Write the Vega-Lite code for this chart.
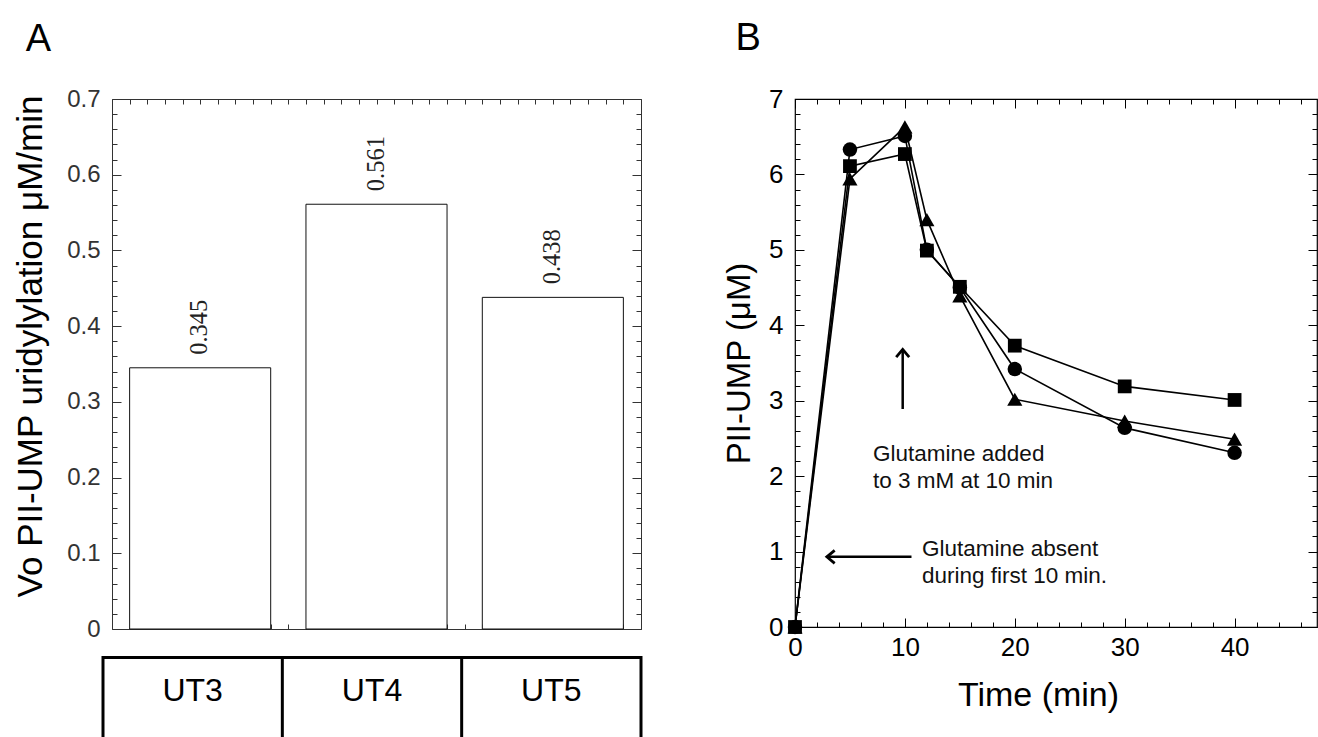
{
  "$schema": "https://vega.github.io/schema/vega-lite/v6.json",
  "background": "white",
  "padding": {"left": 13, "top": 19, "right": 0, "bottom": 0},
  "config": {
    "font": "Liberation Sans",
    "view": {"stroke": "black"},
    "axis": {"labelFont": "Liberation Sans", "titleFont": "Liberation Sans", "titleFontWeight": "normal", "labelFlush": false, "labelOverlap": false, "grid": false, "domain": false, "tickCount": 100},
    "title": {"font": "Liberation Sans", "fontWeight": "normal"}
  },
  "columns": 2,
  "bounds": "flush",
  "spacing": {"row": 27, "column": 154},
  "concat": [
    {
      "width": 529,
      "height": 530,
      "title": {"text": "A", "anchor": "start", "frame": "bounds", "fontSize": 38, "baseline": "alphabetic", "offset": -2, "dx": 12, "color": "black"},
      "view": {"stroke": "#333", "strokeWidth": 1},
      "data": {"values": [
        {"strain": "UT3", "rate": 0.345},
        {"strain": "UT4", "rate": 0.561},
        {"strain": "UT5", "rate": 0.438}
      ]},
      "layer": [
        {
          "layer": [
            {
              "mark": {"type": "bar", "fill": "white", "stroke": "#111", "strokeWidth": 1},
              "encoding": {
                "x": {"field": "strain", "type": "nominal", "scale": {"paddingInner": 0.2, "paddingOuter": 0.1}, "axis": null},
                "y": {"field": "rate", "type": "quantitative", "scale": {"domain": [0, 0.7], "nice": false},
                  "axis": {
                    "orient": "left",
                    "values": [0,0.02,0.04,0.06,0.08,0.1,0.12,0.14,0.16,0.18,0.2,0.22,0.24,0.26,0.28,0.3,0.32,0.34,0.36,0.38,0.4,0.42,0.44,0.46,0.48,0.5,0.52,0.54,0.56,0.58,0.6,0.62,0.64,0.66,0.68,0.7],
                    "tickCount": 100,
                    "labelExpr": "abs(datum.value*10 - round(datum.value*10)) < 0.001 ? (datum.value < 0.001 ? '0' : format(datum.value, '.1f')) : ''",
                    "labelOverlap": false,
                    "labelBound": false,
                    "tickSize": {"condition": {"test": "abs(datum.value*10 - round(datum.value*10)) < 0.001", "value": -9}, "value": -5},
                    "tickColor": "#333",
                    "tickWidth": 1,
                    "labelPadding": 21,
                    "labelFontSize": 24,
                    "labelColor": "#333",
                    "title": "Vo PII-UMP uridylylation μM/min",
                    "titleFontSize": 35,
                    "titleColor": "black",
                    "titlePadding": 18,
                    "titleY": 247
                  }
                }
              }
            },
            {
              "mark": {"type": "text", "angle": 270, "align": "left", "baseline": "middle", "dx": 13, "font": "Liberation Serif", "fontSize": 24.5, "color": "#222"},
              "encoding": {
                "x": {"field": "strain", "type": "nominal"},
                "y": {"field": "rate", "type": "quantitative"},
                "text": {"field": "rate", "type": "quantitative", "format": ".3f"}
              }
            }
          ]
        },
        {
          "mark": {"type": "point", "opacity": 0},
          "encoding": {
            "x": {"field": "rate", "type": "quantitative", "scale": {"domain": [0, 30], "nice": false, "zero": false},
              "axis": {"orient": "bottom", "values": [0,1,2,3,4,5,6,7,8,9,10,11,12,13,14,15,16,17,18,19,20,21,22,23,24,25,26,27,28,29,30], "tickCount": 100, "labels": false, "tickSize": -5, "tickColor": "#333", "title": null}},
            "y": {"field": "rate", "type": "quantitative", "scale": {"domain": [0, 0.7], "nice": false},
              "axis": {"orient": "right", "values": [0,0.02,0.04,0.06,0.08,0.1,0.12,0.14,0.16,0.18,0.2,0.22,0.24,0.26,0.28,0.3,0.32,0.34,0.36,0.38,0.4,0.42,0.44,0.46,0.48,0.5,0.52,0.54,0.56,0.58,0.6,0.62,0.64,0.66,0.68,0.7], "tickCount": 100, "labels": false,
                "tickSize": {"condition": {"test": "abs(datum.value*10 - round(datum.value*10)) < 0.001", "value": -9}, "value": -5}, "tickColor": "#333", "title": null}}
          }
        },
        {
          "mark": {"type": "point", "opacity": 0},
          "encoding": {
            "x": {"field": "rate", "type": "quantitative", "scale": {"domain": [0, 30], "nice": false, "zero": false},
              "axis": {"orient": "top", "values": [0,1,2,3,4,5,6,7,8,9,10,11,12,13,14,15,16,17,18,19,20,21,22,23,24,25,26,27,28,29,30], "tickCount": 100, "labels": false, "tickSize": -5, "tickColor": "#333", "title": null}}
          }
        }
      ],
      "resolve": {"scale": {"x": "independent", "y": "independent"}}
    },
    {
      "width": 522,
      "height": 528,
      "title": {"text": "B", "anchor": "start", "frame": "bounds", "fontSize": 38, "baseline": "alphabetic", "offset": -2, "dx": 12, "color": "black"},
      "view": {"stroke": "black", "strokeWidth": 1.2},
      "data": {"values": [
        {"series": "triangle", "t": 0, "v": 0},
        {"series": "triangle", "t": 5, "v": 5.94},
        {"series": "triangle", "t": 10, "v": 6.63},
        {"series": "triangle", "t": 12, "v": 5.4},
        {"series": "triangle", "t": 15, "v": 4.39},
        {"series": "triangle", "t": 20, "v": 3.02},
        {"series": "triangle", "t": 30, "v": 2.73},
        {"series": "triangle", "t": 40, "v": 2.49},
        {"series": "circle", "t": 0, "v": 0},
        {"series": "circle", "t": 5, "v": 6.33},
        {"series": "circle", "t": 10, "v": 6.51},
        {"series": "circle", "t": 12, "v": 5.0},
        {"series": "circle", "t": 15, "v": 4.5},
        {"series": "circle", "t": 20, "v": 3.42},
        {"series": "circle", "t": 30, "v": 2.64},
        {"series": "circle", "t": 40, "v": 2.31},
        {"series": "square", "t": 0, "v": 0},
        {"series": "square", "t": 5, "v": 6.11},
        {"series": "square", "t": 10, "v": 6.27},
        {"series": "square", "t": 12, "v": 4.99},
        {"series": "square", "t": 15, "v": 4.51},
        {"series": "square", "t": 20, "v": 3.73},
        {"series": "square", "t": 30, "v": 3.19},
        {"series": "square", "t": 40, "v": 3.01}
      ]},
      "layer": [
        {
          "layer": [
            {
              "mark": {"type": "line", "color": "black", "strokeWidth": 1.6},
              "encoding": {
                "x": {"field": "t", "type": "quantitative", "scale": {"domain": [0, 47.5], "nice": false, "zero": false},
                  "axis": {
                    "orient": "bottom",
                    "values": [0,2,4,6,8,10,12,14,16,18,20,22,24,26,28,30,32,34,36,38,40,42,44,46],
                    "tickCount": 100,
                    "labelExpr": "datum.value % 10 == 0 ? datum.value : ''",
                    "labelOverlap": false,
                    "labelBound": false,
                    "tickSize": {"condition": {"test": "datum.value % 10 == 0", "value": -9}, "value": -5},
                    "tickColor": "black",
                    "labelPadding": 16,
                    "labelFontSize": 26,
                    "labelColor": "black",
                    "title": "Time (min)",
                    "titleFontSize": 34,
                    "titleColor": "black",
                    "titlePadding": 14,
                    "titleX": 243
                  }
                },
                "y": {"field": "v", "type": "quantitative", "scale": {"domain": [0, 7], "nice": false},
                  "axis": {
                    "orient": "left",
                    "values": [0,0.2,0.4,0.6,0.8,1,1.2,1.4,1.6,1.8,2,2.2,2.4,2.6,2.8,3,3.2,3.4,3.6,3.8,4,4.2,4.4,4.6,4.8,5,5.2,5.4,5.6,5.8,6,6.2,6.4,6.6,6.8,7],
                    "tickCount": 100,
                    "labelExpr": "abs(datum.value - round(datum.value)) < 0.001 ? format(datum.value, 'd') : ''",
                    "labelOverlap": false,
                    "labelBound": false,
                    "tickSize": {"condition": {"test": "abs(datum.value - round(datum.value)) < 0.001", "value": -9}, "value": -5},
                    "tickColor": "black",
                    "labelPadding": 21,
                    "labelFontSize": 26,
                    "labelColor": "black",
                    "title": "PII-UMP (μM)",
                    "titleFontSize": 33,
                    "titleColor": "black",
                    "titlePadding": 12
                  }
                },
                "detail": {"field": "series", "type": "nominal"}
              }
            },
            {
              "mark": {"type": "point", "filled": true, "color": "black", "opacity": 1},
              "encoding": {
                "x": {"field": "t", "type": "quantitative"},
                "y": {"field": "v", "type": "quantitative"},
                "shape": {"field": "series", "type": "nominal", "scale": {"domain": ["triangle", "circle", "square"], "range": ["triangle-up", "circle", "square"]}, "legend": null},
                "size": {"field": "series", "type": "nominal", "scale": {"domain": ["triangle", "circle", "square"], "range": [230, 190, 180]}, "legend": null}
              }
            },
            {
              "data": {"values": [{}]},
              "mark": {"type": "rule", "color": "black", "strokeWidth": 2.5},
              "encoding": {"x": {"datum": 9.8}, "y": {"datum": 2.89}, "y2": {"datum": 3.68}}
            },
            {
              "data": {"values": [{}]},
              "mark": {"type": "point", "shape": "M-1,1.2L0,0L1,1.2", "filled": false, "color": "black", "strokeWidth": 2.8, "size": 169, "opacity": 1},
              "encoding": {"x": {"datum": 9.8}, "y": {"datum": 3.68}}
            },
            {
              "data": {"values": [{}]},
              "mark": {"type": "rule", "color": "black", "strokeWidth": 2.5},
              "encoding": {"x": {"datum": 2.9}, "x2": {"datum": 10.6}, "y": {"datum": 0.93}}
            },
            {
              "data": {"values": [{}]},
              "mark": {"type": "point", "shape": "M1.2,-1L0,0L1.2,1", "filled": false, "color": "black", "strokeWidth": 2.8, "size": 169, "opacity": 1},
              "encoding": {"x": {"datum": 2.9}, "y": {"datum": 0.93}}
            },
            {
              "data": {"values": [{}]},
              "mark": {"type": "text", "text": ["Glutamine added", "to 3 mM at 10 min"], "align": "left", "baseline": "top", "fontSize": 22.5, "lineHeight": 27, "color": "#111"},
              "encoding": {"x": {"datum": 7.1}, "y": {"datum": 2.44}}
            },
            {
              "data": {"values": [{}]},
              "mark": {"type": "text", "text": ["Glutamine absent", "during first 10 min."], "align": "left", "baseline": "top", "fontSize": 22.5, "lineHeight": 27, "color": "#111"},
              "encoding": {"x": {"datum": 11.55}, "y": {"datum": 1.18}}
            }
          ]
        },
        {
          "mark": {"type": "point", "opacity": 0},
          "encoding": {
            "x": {"field": "t", "type": "quantitative", "scale": {"domain": [0, 47.5], "nice": false, "zero": false},
              "axis": {"orient": "top", "values": [0,2,4,6,8,10,12,14,16,18,20,22,24,26,28,30,32,34,36,38,40,42,44,46], "tickCount": 100, "labels": false,
                "tickSize": {"condition": {"test": "datum.value % 10 == 0", "value": -9}, "value": -5}, "tickColor": "black", "title": null}},
            "y": {"field": "v", "type": "quantitative", "scale": {"domain": [0, 7], "nice": false},
              "axis": {"orient": "right", "values": [0,0.2,0.4,0.6,0.8,1,1.2,1.4,1.6,1.8,2,2.2,2.4,2.6,2.8,3,3.2,3.4,3.6,3.8,4,4.2,4.4,4.6,4.8,5,5.2,5.4,5.6,5.8,6,6.2,6.4,6.6,6.8,7], "tickCount": 100, "labels": false,
                "tickSize": {"condition": {"test": "abs(datum.value - round(datum.value)) < 0.001", "value": -9}, "value": -5}, "tickColor": "black", "title": null}}
          }
        }
      ],
      "resolve": {"scale": {"x": "independent", "y": "independent"}}
    },
    {
      "width": 529,
      "height": 81,
      "view": {"stroke": null},
      "data": {"values": [{"strain": "UT3"}, {"strain": "UT4"}, {"strain": "UT5"}]},
      "layer": [
        {
          "mark": {"type": "rule", "color": "black", "strokeWidth": 3},
          "encoding": {
            "x": {"field": "strain", "type": "nominal", "bandPosition": 0, "scale": {"range": [-9, 529], "paddingInner": 0, "paddingOuter": 0}, "axis": null},
            "y": {"datum": 1, "type": "quantitative", "scale": {"domain": [0, 1], "nice": false}, "axis": null},
            "y2": {"datum": 0}
          }
        },
        {
          "data": {"values": [{}]},
          "mark": {"type": "rule", "color": "black", "strokeWidth": 3},
          "encoding": {
            "x": {"datum": "UT5", "type": "nominal", "bandPosition": 1, "axis": null},
            "y": {"datum": 1, "type": "quantitative", "axis": null},
            "y2": {"datum": 0}
          }
        },
        {
          "mark": {"type": "bar", "color": "black"},
          "encoding": {
            "x": {"field": "strain", "type": "nominal", "axis": null},
            "y": {"datum": 1, "type": "quantitative", "axis": null},
            "y2": {"datum": 0.963}
          }
        },
        {
          "mark": {"type": "text", "fontSize": 32, "color": "black", "baseline": "middle"},
          "encoding": {
            "x": {"field": "strain", "type": "nominal", "axis": null},
            "y": {"datum": 0.57, "type": "quantitative", "axis": null},
            "text": {"field": "strain", "type": "nominal"}
          }
        }
      ]
    }
  ]
}
